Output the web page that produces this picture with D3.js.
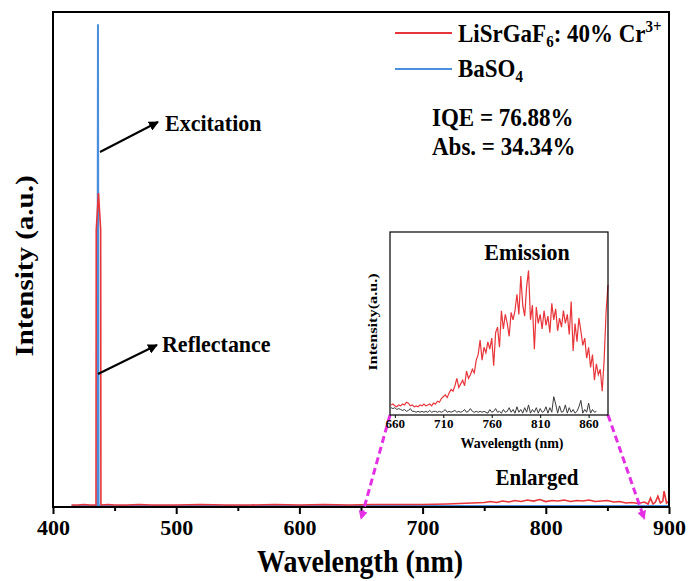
<!DOCTYPE html>
<html>
<head>
<meta charset="utf-8">
<script src="https://cdn.jsdelivr.net/npm/d3@7"></script>
<style>
  body { margin: 0; background: #fff; }
  text { font-family: "Liberation Serif", "Times New Roman", serif; font-weight: bold; }
</style>
</head>
<body>
<div id="chart"></div>
<script>
// main spectra (wavelength nm, intensity a.u.)
var redWl = [415, 420, 425, 430, 434.9, 435.1, 436.9, 438.7, 438.9, 445, 450, 460, 470, 480, 490, 500, 520, 540, 560, 580, 600, 620, 640, 660, 680, 700, 720, 730, 740, 750, 755, 760, 765, 770, 775, 780, 785, 790, 795, 800, 805, 810, 815, 820, 825, 830, 835, 840, 845, 850, 855, 860, 865, 870, 875, 880, 883, 885, 887, 889, 891, 893, 895, 896, 898, 900];
var redVal = [0.004, 0.004, 0.005, 0.004, 0.004, 0.56, 0.634, 0.56, 0.004, 0.005, 0.004, 0.004, 0.005, 0.004, 0.004, 0.004, 0.005, 0.004, 0.004, 0.005, 0.004, 0.005, 0.004, 0.005, 0.005, 0.005, 0.006, 0.007, 0.008, 0.009, 0.011, 0.009, 0.012, 0.01, 0.013, 0.011, 0.014, 0.012, 0.015, 0.011, 0.013, 0.012, 0.014, 0.011, 0.013, 0.012, 0.014, 0.011, 0.012, 0.013, 0.01, 0.011, 0.008, 0.009, 0.007, 0.01, 0.006, 0.018, 0.006, 0.01, 0.022, 0.008, 0.012, 0.032, 0.008, 0.012];
var blueWl = [415, 434, 436, 436.5, 437, 440, 500, 600, 700, 800, 880, 900];
var blueVal = [0.002, 0.002, 0.003, 0.975, 0.003, 0.002, 0.002, 0.002, 0.002, 0.002, 0.002, 0.002];

// inset: emission region, 2 nm steps from 656 nm
var emiStart = 656, emiStep = 2;
var emiRed = [0.055, 0.06, 0.05, 0.045, 0.055, 0.05, 0.06, 0.055, 0.07, 0.065, 0.05, 0.055, 0.045, 0.05, 0.045, 0.055, 0.05, 0.06, 0.05, 0.055, 0.06, 0.05, 0.065, 0.06, 0.075, 0.07, 0.09, 0.1, 0.11, 0.095, 0.12, 0.14, 0.13, 0.16, 0.2, 0.15, 0.17, 0.19, 0.16, 0.24, 0.2, 0.22, 0.25, 0.23, 0.3, 0.33, 0.41, 0.3, 0.37, 0.34, 0.4, 0.36, 0.42, 0.27, 0.45, 0.48, 0.37, 0.57, 0.47, 0.55, 0.5, 0.43, 0.56, 0.52, 0.57, 0.66, 0.55, 0.76, 0.6, 0.54, 0.7, 0.79, 0.52, 0.6, 0.36, 0.59, 0.5, 0.55, 0.47, 0.57, 0.49, 0.54, 0.45, 0.61, 0.52, 0.58, 0.46, 0.53, 0.48, 0.57, 0.5, 0.55, 0.44, 0.62, 0.35, 0.5, 0.4, 0.53, 0.46, 0.38, 0.42, 0.31, 0.37, 0.26, 0.33, 0.19, 0.28, 0.22, 0.25, 0.13, 0.3, 0.56, 0.71];
var emiRef = [0.04, 0.035, 0.04, 0.03, 0.035, 0.03, 0.025, 0.03, 0.02, 0.025, 0.035, 0.02, 0.02, 0.015, 0.02, 0.015, 0.02, 0.015, 0.02, 0.015, 0.025, 0.015, 0.02, 0.02, 0.015, 0.02, 0.015, 0.02, 0.03, 0.015, 0.02, 0.015, 0.02, 0.025, 0.015, 0.02, 0.015, 0.02, 0.03, 0.015, 0.02, 0.035, 0.02, 0.015, 0.02, 0.015, 0.02, 0.015, 0.02, 0.015, 0.01, 0.03, 0.015, 0.02, 0.035, 0.015, 0.02, 0.01, 0.03, 0.015, 0.02, 0.04, 0.015, 0.03, 0.01, 0.045, 0.015, 0.03, 0.01, 0.04, 0.015, 0.055, 0.01, 0.03, 0.015, 0.04, 0.01, 0.035, 0.015, 0.02, 0.045, 0.01, 0.04, 0.015, 0.1, 0.06, 0.01, 0.05, 0.015, 0.02, 0.055, 0.01, 0.04, 0.015, 0.03, 0.01, 0.02, 0.045, 0.08, 0.01, 0.03, 0.015, 0.065, 0.01, 0.03, 0.015, 0.02];

var xTicks = [400, 500, 600, 700, 800, 900];
var insetTicks = [660, 710, 760, 810, 860];

var svgWidth = 689, svgHeight = 581;
var margin = {top: 12, right: 20, bottom: 74, left: 53};
var width = 669 - margin.left;
var height = 507 - margin.top;

var svg = d3.select("#chart").append("svg")
  .attr("width", svgWidth)
  .attr("height", svgHeight);

// text helper: the source figure is a bit stretched, so allow a scale along one axis
function addText(parent, x, y, size, s, rot) {
  var tr = `translate(${x},${y})` + (rot ? ` rotate(${rot}) scale(${s},1)` : ` scale(1,${s})`);
  return parent.append("text").attr("transform", tr).style("font-size", size + "px");
}

var defs = svg.append("defs");
defs.append("marker")
  .attr("id", "arr")
  .attr("viewBox", "0 0 10 10")
  .attr("refX", 9).attr("refY", 5)
  .attr("markerWidth", 5).attr("markerHeight", 5)
  .attr("orient", "auto")
  .append("path").attr("d", "M0,0 L10,5 L0,10 z").attr("fill", "#000");
defs.append("marker")
  .attr("id", "arrM")
  .attr("viewBox", "0 0 10 10")
  .attr("refX", 9).attr("refY", 5)
  .attr("markerWidth", 3).attr("markerHeight", 3)
  .attr("orient", "auto")
  .append("path").attr("d", "M0,0 L10,5 L0,10 z").attr("fill", "#e52fe5");

var g = svg.append("g").attr("transform", `translate(${margin.left}, ${margin.top})`);

var x = d3.scaleLinear().domain([400, 900]).range([0, width]);
var y = d3.scaleLinear().domain([0, 1]).range([height, 0]);

// axis with outward ticks
var xAxis = d3.axisBottom(x).tickValues(xTicks).tickSize(7).tickPadding(5);
var xMinor = d3.axisBottom(x).tickValues([450, 550, 650, 750, 850]).tickSize(4).tickFormat("");

var ax = g.append("g").attr("transform", `translate(0, ${height})`).call(xAxis);
ax.selectAll("text").style("font-size", "22px").attr("fill", "#000");
ax.selectAll("line").attr("stroke-width", 2);
ax.select(".domain").remove();
var axm = g.append("g").attr("transform", `translate(0, ${height})`).call(xMinor);
axm.selectAll("line").attr("stroke-width", 2);
axm.select(".domain").remove();

var line = d3.line().x(d => x(d[0])).y(d => y(d[1]));

g.append("path")
  .datum(d3.zip(blueWl, blueVal))
  .attr("d", line)
  .attr("fill", "none")
  .attr("stroke", "#4a8ede")
  .attr("stroke-width", 2);

g.append("path")
  .datum(d3.zip(redWl, redVal))
  .attr("d", line)
  .attr("fill", "none")
  .attr("stroke", "#e8353a")
  .attr("stroke-width", 1.6);

// frame
g.append("rect")
  .attr("width", width).attr("height", height)
  .attr("fill", "none").attr("stroke", "#000").attr("stroke-width", 2);

// axis titles
addText(svg, 360, 572, 28, 1.1).attr("text-anchor", "middle").text("Wavelength (nm)");
addText(svg, 33, 266, 25, 1.16, -90).attr("text-anchor", "middle").text("Intensity (a.u.)");

// legend
var legend = g.append("g");
legend.append("line").attr("x1", 342).attr("x2", 399).attr("y1", 21).attr("y2", 21)
  .attr("stroke", "#e8353a").attr("stroke-width", 2);
legend.append("line").attr("x1", 342).attr("x2", 399).attr("y1", 57).attr("y2", 57)
  .attr("stroke", "#4a8ede").attr("stroke-width", 2);

var t1 = addText(legend, 405, 30, 23, 1.08);
t1.append("tspan").text("LiSrGaF");
t1.append("tspan").attr("dy", 5).style("font-size", "15px").text("6");
t1.append("tspan").attr("dy", -5).text(": 40% Cr");
t1.append("tspan").attr("dy", -9).style("font-size", "15px").text("3+");

var t2 = addText(legend, 405, 65, 23, 1.08);
t2.append("tspan").text("BaSO");
t2.append("tspan").attr("dy", 5).style("font-size", "15px").text("4");

addText(g, 379, 114, 23, 1.05).text("IQE = 76.88%");
addText(g, 379, 143, 23, 1.05).text("Abs. = 34.34%");

// annotations
function note(label, x1, y1, x2, y2, tx, ty) {
  svg.append("line")
    .attr("x1", x1).attr("y1", y1).attr("x2", x2).attr("y2", y2)
    .attr("stroke", "#000").attr("stroke-width", 2)
    .attr("marker-end", "url(#arr)");
  addText(svg, tx, ty, 22, 1.08).text(label);
}
note("Excitation", 100, 152, 158, 122, 165, 131);
note("Reflectance", 98, 374, 157, 345, 162, 352);

addText(svg, 537, 485, 21, 1.08).attr("text-anchor", "middle").text("Enlarged");

// inset
var ins = {left: 390, top: 232, right: 608, bottom: 415};
var xi = d3.scaleLinear().domain([655, 880]).range([ins.left, ins.right]);
var yi = d3.scaleLinear().domain([0, 1]).range([ins.bottom, ins.top]);

// magenta guide lines from main axis to inset
[[650, ins.left], [880, ins.right]].forEach(function(p) {
  svg.append("line")
    .attr("x1", p[1]).attr("y1", ins.bottom)
    .attr("x2", margin.left + x(p[0])).attr("y2", 519)
    .attr("stroke", "#e52fe5").attr("stroke-width", 3)
    .attr("stroke-dasharray", "7,4")
    .attr("marker-end", "url(#arrM)");
});

svg.append("rect")
  .attr("x", ins.left).attr("y", ins.top)
  .attr("width", ins.right - ins.left).attr("height", ins.bottom - ins.top)
  .attr("fill", "#fff");

var lineI = d3.line().x(d => xi(d[0])).y(d => yi(d[1]));
var refPts = emiRef.map((v, i) => [emiStart + i * emiStep, v]);
var redPts = emiRed.map((v, i) => [emiStart + i * emiStep, v]);

svg.append("path").datum(refPts).attr("d", lineI)
  .attr("fill", "none").attr("stroke", "#3a3a3a").attr("stroke-width", 1);
svg.append("path").datum(redPts).attr("d", lineI)
  .attr("fill", "none").attr("stroke", "#e8353a").attr("stroke-width", 1.2);

svg.append("rect")
  .attr("x", ins.left).attr("y", ins.top)
  .attr("width", ins.right - ins.left).attr("height", ins.bottom - ins.top)
  .attr("fill", "none").attr("stroke", "#000").attr("stroke-width", 1.2);

var axI = svg.append("g").attr("transform", `translate(0, ${ins.bottom})`)
  .call(d3.axisBottom(xi).tickValues(insetTicks).tickSize(3).tickPadding(1));
axI.select(".domain").remove();
axI.selectAll("text").style("font-size", "13px").attr("fill", "#000");

addText(svg, 512, 448, 14, 1.0).attr("text-anchor", "middle").text("Wavelength (nm)");
addText(svg, 377, 322, 13, 1.25, -90).attr("text-anchor", "middle").text("Intensity(a.u.)");
addText(svg, 527, 260, 22, 1.08).attr("text-anchor", "middle").text("Emission");
</script>
</body>
</html>
